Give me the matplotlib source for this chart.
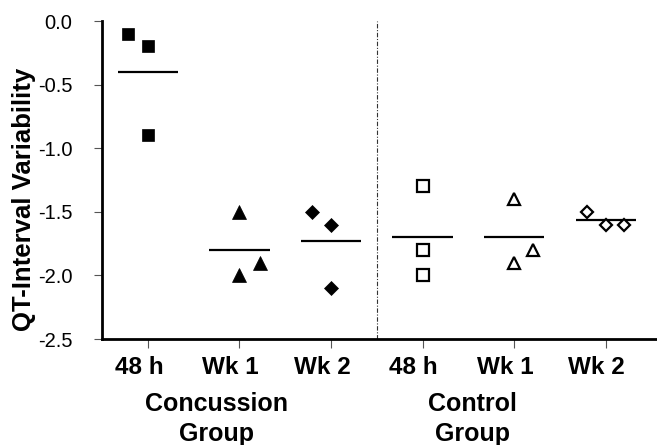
import numpy as np
import matplotlib
matplotlib.use("Agg")
import matplotlib.pyplot as plt
from matplotlib.transforms import ScaledTranslation, blended_transform_factory

plt.rcParams['font.family'] = ['Liberation Sans', 'DejaVu Sans']

# etiquetas
tick_labels = ["48 h", "Wk 1", "Wk 2", "48 h", "Wk 1", "Wk 2"]
group_labels = ["Concussion\nGroup", "Control\nGroup"]

# valores (una lista por columna)
conc_48h = [-0.1, -0.2, -0.9]
conc_wk1 = [-1.5, -2.0, -1.9]
conc_wk2 = [-1.5, -1.6, -2.1]
ctrl_48h = [-1.3, -1.8, -2.0]
ctrl_wk1 = [-1.4, -1.9, -1.8]
ctrl_wk2 = [-1.5, -1.6, -1.6]

# desplazamiento horizontal de cada punto (en unidades de categoria)
conc_48h_dx = [-0.22, 0.0, 0.0]
conc_wk1_dx = [0.0, 0.0, 0.22]
conc_wk2_dx = [-0.21, 0.0, 0.0]
ctrl_48h_dx = [0.0, 0.0, 0.0]
ctrl_wk1_dx = [0.0, 0.0, 0.21]
ctrl_wk2_dx = [-0.2, 0.0, 0.2]

columnas = [conc_48h, conc_wk1, conc_wk2, ctrl_48h, ctrl_wk1, ctrl_wk2]
desplaz = [conc_48h_dx, conc_wk1_dx, conc_wk2_dx, ctrl_48h_dx, ctrl_wk1_dx, ctrl_wk2_dx]
marcadores = ['s', '^', 'D', 's', '^', 'D']
tamanos = [8.5, 9.5, 6.8, 8.0, 9.0, 6.6]
rellenos = ['black', 'black', 'black', 'white', 'white', 'white']

fig = plt.figure(figsize=(6.57, 4.45), dpi=100)
ax = fig.add_axes([0.1548, 0.2382, 0.8452, 0.7146])

for i in range(len(columnas)):
  xs = [i + d for d in desplaz[i]]
  ax.plot(xs, columnas[i], linestyle='none', marker=marcadores[i], markersize=tamanos[i],
          markerfacecolor=rellenos[i], markeredgecolor='black',
          markeredgewidth=1.6 if rellenos[i] == 'white' else 0.5, zorder=3)
  # linea de la media
  ax.hlines(np.mean(columnas[i]), i - 0.33, i + 0.33, color='black', linewidth=1.6, zorder=2)

# separador entre grupos
ax.axvline(2.5, color='#333333', linewidth=0.8, linestyle=(0, (4, 1.5, 1, 1.5)))

ax.set_xlim(-0.505, 5.56)
ax.set_ylim(-2.5, 0.0)
ax.set_yticks([0.0, -0.5, -1.0, -1.5, -2.0, -2.5])
ax.set_yticklabels(["0.0", "-0.5", "-1.0", "-1.5", "-2.0", "-2.5"], fontsize=14.5)
ax.set_xticks(range(len(tick_labels)))
ax.set_xticklabels(tick_labels, fontsize=17.5, fontweight='bold')

ax.tick_params(axis='y', direction='out', length=6, width=0.8, color='#555555', pad=15)
ax.tick_params(axis='x', direction='out', length=6.5, width=0.8, color='#555555', pad=6)

for label in ax.get_xticklabels():
  label.set_transform(label.get_transform() + ScaledTranslation(-9 / 100.0, 0, fig.dpi_scale_trans))

ax.spines['top'].set_visible(False)
ax.spines['right'].set_visible(False)
ax.spines['left'].set_linewidth(2)
ax.spines['bottom'].set_linewidth(2)

ax.set_ylabel("QT-Interval Variability", fontsize=18.5, fontweight='bold')
ax.yaxis.set_label_coords(-0.118, 0.44)

trans = blended_transform_factory(ax.transData, ax.transAxes)
ax.text(0.754, -0.168, group_labels[0], transform=trans, ha='center', va='top',
        fontsize=18, fontweight='bold', linespacing=1.28)
ax.text(3.54, -0.168, group_labels[1], transform=trans, ha='center', va='top',
        fontsize=18, fontweight='bold', linespacing=1.28)

fig.savefig("out.png", dpi=100, facecolor='white')
